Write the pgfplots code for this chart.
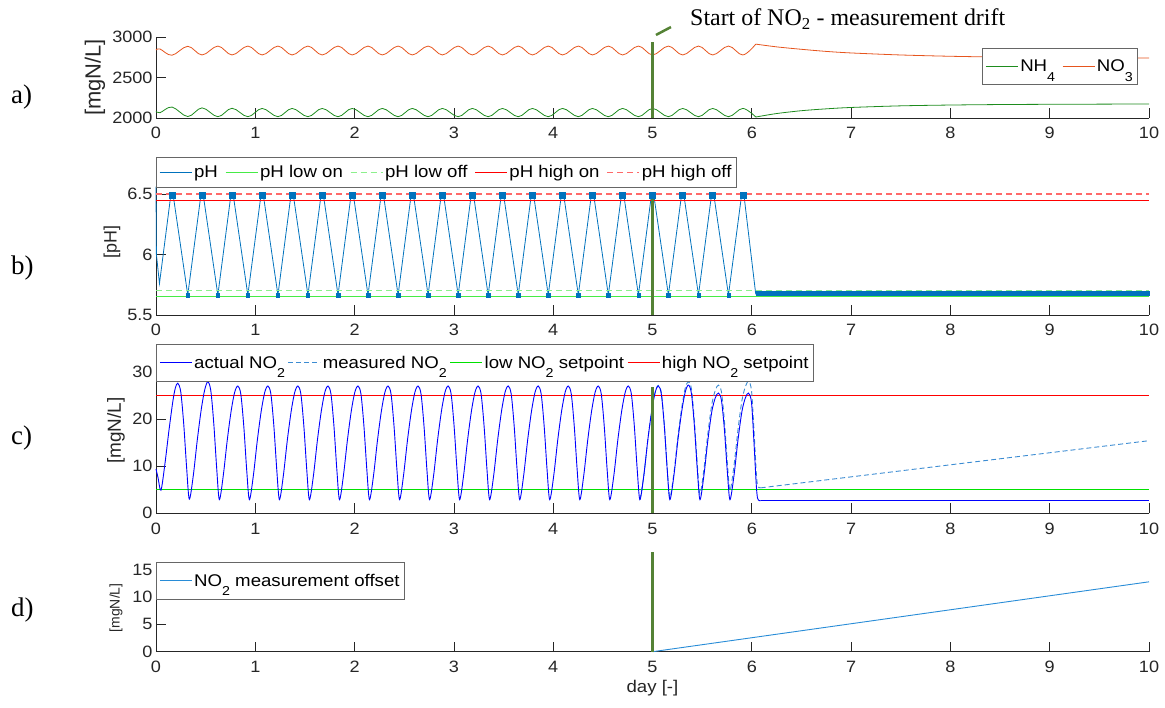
\documentclass[border=0pt]{standalone}
\usepackage{fontspec}
\setmainfont{Liberation Sans}[FakeStretch=1.1]
\newfontfamily\plainsans{Liberation Sans}
\newfontfamily\serif{Liberation Serif}
\usepackage{pgfplots}
\pgfplotsset{compat=1.18}

\definecolor{nh4}{RGB}{30,140,30}
\definecolor{no3}{RGB}{230,85,30}
\definecolor{phblue}{RGB}{0,114,189}
\definecolor{lowon}{RGB}{70,235,70}
\definecolor{lowoff}{RGB}{140,240,140}
\definecolor{highon}{RGB}{255,0,0}
\definecolor{highoff}{RGB}{255,105,105}
\definecolor{actual}{RGB}{0,0,255}
\definecolor{meas}{RGB}{60,140,210}
\definecolor{offs}{RGB}{40,140,215}
\definecolor{marker}{RGB}{84,130,53}
\definecolor{axgray}{RGB}{38,38,38}
\definecolor{spgreen}{RGB}{0,225,0}

\newcommand{\sub}[1]{\raisebox{-0.58em}{\fontsize{13}{13}\selectfont #1}}

\pgfplotsset{
  panel/.style={
    scale only axis, width=993bp,
    xmin=0, xmax=10, xtick={0,1,...,10},
    axis x line*=bottom, axis y line*=left,
    axis line style={axgray, line width=0.8bp, -},
    tick style={axgray, line width=0.8bp},
    major tick length=10bp, tick align=inside,
    ticklabel style={font=\fontsize{16.5}{19}\selectfont, text=axgray},
    xticklabel style={yshift=-6bp},
    /pgf/number format/assume math mode=true,
    /pgf/number format/1000 sep={},
    clip=false,
    legend columns=-1,
    legend cell align=left,
    legend image code/.code={\draw[##1] (0bp,0bp) -- (32bp,0bp);},
    legend style={draw=black!60, line width=0.6bp, fill=white,
      font=\fontsize{17}{19}\selectfont, text=black,
      inner xsep=3bp, inner ysep=9.5bp,
      nodes={inner xsep=2bp, inner ysep=2bp},
      /tikz/every even column/.append style={column sep=5bp}},
  },
  ylab/.style n args={2}{ylabel style={font=\plainsans\fontsize{#1}{#1}\selectfont, text=axgray,
      at={(axis description cs:#2,0.5)}, anchor=center}},
}

\begin{document}
\begin{tikzpicture}
\useasboundingbox (0bp,0bp) rectangle (1165bp,708bp);

% ---------------- panel a ----------------
\begin{axis}[panel, at={(156bp,590bp)}, anchor=south west, height=81bp,
  ymin=2000, ymax=3000, ytick={2000,2500,3000},
  ylabel={[mgN/L]}, ylab={22}{-0.0614},
  legend style={at={(axis description cs:0.832,0.864)}, anchor=north west}]
\addplot[nh4, line width=0.8bp, smooth, tension=0.6] coordinates {
(0,2085)(0.04,2065)(0.161,2135)(0.320,2018)(0.464,2125)(0.623,2016)(0.766,2120)(0.925,2016)(1.069,2118)(1.228,2016)(1.371,2118)(1.530,2016)(1.674,2118)(1.833,2016)(1.976,2118)(2.135,2016)(2.279,2118)(2.438,2016)(2.581,2118)(2.740,2016)(2.884,2118)(3.043,2016)(3.186,2118)(3.345,2016)(3.489,2118)(3.648,2016)(3.791,2118)(3.950,2016)(4.094,2118)(4.253,2016)(4.396,2118)(4.555,2016)(4.699,2118)(4.858,2016)(5.001,2118)(5.160,2016)(5.304,2118)(5.463,2016)(5.606,2118)(5.765,2016)(5.909,2118)(6.04,2012)};
\addlegendentry{NH\sub{4}}
\addplot[no3, line width=0.8bp, smooth, tension=0.6] coordinates {
(0,2840)(0.04,2852)(0.161,2775)(0.320,2885)(0.464,2778)(0.623,2888)(0.766,2778)(0.925,2888)(1.069,2778)(1.228,2888)(1.371,2778)(1.530,2888)(1.674,2778)(1.833,2888)(1.976,2778)(2.135,2888)(2.279,2778)(2.438,2888)(2.581,2778)(2.740,2888)(2.884,2778)(3.043,2888)(3.186,2778)(3.345,2888)(3.489,2778)(3.648,2888)(3.791,2778)(3.950,2888)(4.094,2778)(4.253,2888)(4.396,2778)(4.555,2888)(4.699,2778)(4.858,2888)(5.001,2778)(5.160,2888)(5.304,2778)(5.463,2888)(5.606,2778)(5.765,2888)(5.909,2778)(6.04,2912)};
\addlegendentry{NO\sub{3}}
\addplot[nh4, line width=0.8bp, smooth, forget plot] coordinates {
(6.04,2012)(6.25,2055)(6.5,2090)(6.75,2113)(7,2130)(7.5,2150)(8,2160)(8.5,2166)(9,2169)(9.5,2171)(10,2173)};
\addplot[no3, line width=0.8bp, smooth, forget plot] coordinates {
(6.04,2912)(6.25,2878)(6.5,2848)(6.75,2822)(7,2803)(7.5,2778)(8,2762)(8.5,2752)(9,2746)(9.5,2742)(10,2740)};
\addplot[marker, line width=3.5bp, forget plot] coordinates {(5,2000)(5,2938)};
\addplot[marker, line width=2.5bp, forget plot] coordinates {(5.035,3025)(5.186,3123)};
\end{axis}

% ---------------- panel b ----------------
\begin{axis}[panel, at={(156bp,393bp)}, anchor=south west, height=145.2bp,
  ymin=5.5, ymax=6.7, ytick={5.5,6,6.5}, yticklabels={5.5,6,6.5},
  ylabel={[pH]}, ylab={18}{-0.0443},
  legend style={at={(axis description cs:0,1.088)}, anchor=north west, inner ysep=6bp}]
\addplot[phblue, line width=0.8bp] coordinates {
(0,6.56)(0.004,6.0)(0.035,5.76)
(0.149,6.49)(0.173,6.49)(0.320,5.665)
(0.452,6.49)(0.476,6.49)(0.623,5.665)
(0.754,6.49)(0.778,6.49)(0.925,5.665)
(1.057,6.49)(1.081,6.49)(1.228,5.665)
(1.359,6.49)(1.383,6.49)(1.530,5.665)
(1.662,6.49)(1.686,6.49)(1.833,5.665)
(1.964,6.49)(1.988,6.49)(2.135,5.665)
(2.267,6.49)(2.291,6.49)(2.438,5.665)
(2.569,6.49)(2.593,6.49)(2.740,5.665)
(2.872,6.49)(2.896,6.49)(3.043,5.665)
(3.174,6.49)(3.198,6.49)(3.345,5.665)
(3.477,6.49)(3.501,6.49)(3.648,5.665)
(3.779,6.49)(3.803,6.49)(3.950,5.665)
(4.082,6.49)(4.106,6.49)(4.253,5.665)
(4.384,6.49)(4.408,6.49)(4.555,5.665)
(4.687,6.49)(4.711,6.49)(4.858,5.665)
(4.989,6.49)(5.013,6.49)(5.160,5.665)
(5.292,6.49)(5.316,6.49)(5.463,5.665)
(5.594,6.49)(5.618,6.49)(5.765,5.665)
(5.897,6.49)(5.921,6.49)(6.040,5.670)};
\addlegendentry{pH}
\addplot[lowon, line width=1.2bp] coordinates {(0,5.65)(10,5.65)};
\addlegendentry{pH low on}
\addplot[lowoff, line width=1.1bp, dash pattern=on 6bp off 4bp] coordinates {(0,5.7)(10,5.7)};
\addlegendentry{pH low off}
\addplot[highon, line width=0.9bp] coordinates {(0,6.45)(10,6.45)};
\addlegendentry{pH high on}
\addplot[highoff, line width=1.2bp, dash pattern=on 6bp off 4bp] coordinates {(0,6.5)(10,6.5)};
\addlegendentry{pH high off}
\addplot[phblue, only marks, mark=square*, mark size=3bp, forget plot] coordinates {
(0.161,6.49)(0.464,6.49)(0.766,6.49)(1.069,6.49)(1.371,6.49)(1.674,6.49)(1.976,6.49)(2.279,6.49)(2.581,6.49)(2.884,6.49)(3.186,6.49)(3.489,6.49)(3.791,6.49)(4.094,6.49)(4.396,6.49)(4.699,6.49)(5.001,6.49)(5.304,6.49)(5.606,6.49)(5.909,6.49)};
\addplot[phblue, only marks, mark=square*, mark size=1.7bp, forget plot] coordinates {
(0.320,5.665)(0.623,5.665)(0.925,5.665)(1.228,5.665)(1.530,5.665)(1.833,5.665)(2.135,5.665)(2.438,5.665)(2.740,5.665)(3.043,5.665)(3.345,5.665)(3.648,5.665)(3.950,5.665)(4.253,5.665)(4.555,5.665)(4.858,5.665)(5.160,5.665)(5.463,5.665)(5.765,5.665)};
\addplot[phblue, fill=phblue, draw=phblue, line width=0.5bp, forget plot] coordinates {
(6.04,5.662)(10,5.662)(10,5.694)(6.04,5.694)} -- cycle;
\addplot[marker, line width=3.5bp, forget plot] coordinates {(5,5.5)(5,6.48)};
\end{axis}

% ---------------- panel c ----------------
\begin{axis}[panel, at={(156bp,194.7bp)}, anchor=south west, height=165bp,
  ymin=0, ymax=35, ytick={0,10,20,30},
  ylabel={[mgN/L]}, ylab={19}{-0.0403},
  legend style={at={(axis description cs:0,1.026)}, anchor=north west,
    /tikz/every even column/.append style={column sep=1bp}}]
\addlegendimage{actual, line width=0.9bp}
\addlegendentry{actual NO\sub{2}}
\addlegendimage{meas, line width=0.9bp, dash pattern=on 5bp off 3bp}
\addlegendentry{measured NO\sub{2}}
\addlegendimage{spgreen, line width=0.9bp}
\addlegendentry{low NO\sub{2} setpoint}
\addlegendimage{highon, line width=0.9bp}
\addlegendentry{high NO\sub{2} setpoint}
\addplot[spgreen, line width=0.9bp, forget plot] coordinates {(0,5)(10,5)};
\addplot[highon, line width=0.9bp, forget plot] coordinates {(0,25)(10,25)};
\addplot[meas, line width=0.9bp, dash pattern=on 5bp off 3bp, smooth, tension=0.5, forget plot] coordinates {
(4.873,2.9)(4.9125,8.0)(4.9525,15.5)(4.9925,21.8)(5.0275,25.77)(5.059,27.15)(5.089,25.53)(5.119,18.80)(5.149,9.38)(5.175,3.35)(5.2155,8.55)(5.2555,16.15)(5.2955,22.55)(5.3305,26.64)(5.362,27.9)(5.392,26.4)(5.422,19.58)(5.452,10.15)(5.478,4.12)(5.5175,9.32)(5.5575,16.92)(5.5975,23.12)(5.6325,26.11)(5.664,27.19)(5.694,25.77)(5.724,19.65)(5.754,10.62)(5.780,4.89)(5.8205,10.09)(5.8605,17.69)(5.9005,23.9)(5.9355,26.89)(5.967,27.97)(5.997,26.04)(6.022,17.61)(6.045,8.66)(6.058,5.9)(6.075,5.45)(6.09,5.4)};
\addplot[meas, line width=0.9bp, dash pattern=on 5bp off 3bp, forget plot] coordinates {(6.09,5.4)(10,15.4)};
\addplot[actual, line width=0.9bp, smooth, tension=0.5, forget plot] coordinates {
(0,9.4)(0.02,7.6)(0.05,4.9)(0.09,10.5)(0.13,17.5)(0.17,23.8)(0.195,26.6)(0.219,27.6)(0.249,25.8)(0.279,19.0)(0.309,9.5)(0.3355,3.0)
(0.3755,8.0)(0.4155,15.5)(0.4555,22.0)(0.4905,26.2)(0.522,27.9)(0.552,26.0)(0.582,19.0)(0.612,9.3)(0.638,2.9)
(0.6775,8.0)(0.7175,15.5)(0.7575,21.8)(0.7925,25.7)(0.824,27.0)(0.854,25.3)(0.884,18.5)(0.914,9.0)(0.9405,2.9)
(0.9805,8.0)(1.0205,15.5)(1.0605,21.8)(1.0955,25.7)(1.127,27.0)(1.157,25.3)(1.187,18.5)(1.217,9.0)(1.243,2.9)
(1.2825,8.0)(1.3225,15.5)(1.3625,21.8)(1.3975,25.7)(1.429,27.0)(1.459,25.3)(1.489,18.5)(1.519,9.0)(1.545,2.9)
(1.5855,8.0)(1.6255,15.5)(1.6655,21.8)(1.7005,25.7)(1.732,27.0)(1.762,25.3)(1.792,18.5)(1.822,9.0)(1.848,2.9)
(1.8875,8.0)(1.9275,15.5)(1.9675,21.8)(2.0025,25.7)(2.034,27.0)(2.064,25.3)(2.094,18.5)(2.124,9.0)(2.150,2.9)
(2.1905,8.0)(2.2305,15.5)(2.2705,21.8)(2.3055,25.7)(2.337,27.0)(2.367,25.3)(2.397,18.5)(2.427,9.0)(2.453,2.9)
(2.4925,8.0)(2.5325,15.5)(2.5725,21.8)(2.6075,25.7)(2.639,27.0)(2.669,25.3)(2.699,18.5)(2.729,9.0)(2.755,2.9)
(2.7955,8.0)(2.8355,15.5)(2.8755,21.8)(2.9105,25.7)(2.942,27.0)(2.972,25.3)(3.002,18.5)(3.032,9.0)(3.058,2.9)
(3.0975,8.0)(3.1375,15.5)(3.1775,21.8)(3.2125,25.7)(3.244,27.0)(3.274,25.3)(3.304,18.5)(3.334,9.0)(3.360,2.9)
(3.4005,8.0)(3.4405,15.5)(3.4805,21.8)(3.5155,25.7)(3.547,27.0)(3.577,25.3)(3.607,18.5)(3.637,9.0)(3.663,2.9)
(3.7025,8.0)(3.7425,15.5)(3.7825,21.8)(3.8175,25.7)(3.849,27.0)(3.879,25.3)(3.909,18.5)(3.939,9.0)(3.965,2.9)
(4.0055,8.0)(4.0455,15.5)(4.0855,21.8)(4.1205,25.7)(4.152,27.0)(4.182,25.3)(4.212,18.5)(4.242,9.0)(4.268,2.9)
(4.3075,8.0)(4.3475,15.5)(4.3875,21.8)(4.4225,25.7)(4.454,27.0)(4.484,25.3)(4.514,18.5)(4.544,9.0)(4.570,2.9)
(4.6105,8.0)(4.6505,15.5)(4.6905,21.8)(4.7255,25.7)(4.757,27.0)(4.787,25.3)(4.817,18.5)(4.847,9.0)(4.873,2.9)
(4.9125,8.0)(4.9525,15.5)(4.9925,21.8)(5.0275,25.7)(5.059,27.0)(5.089,25.3)(5.119,18.5)(5.149,9.0)(5.175,2.9)
(5.2155,8.0)(5.2555,15.5)(5.2955,21.8)(5.3305,25.8)(5.362,27.2)(5.392,25.4)(5.422,18.5)(5.452,9.0)(5.478,2.9)
(5.5175,8.0)(5.5575,15.5)(5.5975,21.6)(5.6325,24.5)(5.664,25.5)(5.694,24.0)(5.724,17.8)(5.754,8.7)(5.780,2.9)
(5.8205,8.0)(5.8605,15.5)(5.9005,21.6)(5.9355,24.5)(5.967,25.5)(5.997,23.5)(6.022,15.0)(6.045,6.0)(6.058,3.2)(6.075,2.7)(6.09,2.65)};
\addplot[actual, line width=0.9bp, forget plot] coordinates {(6.09,2.65)(10,2.65)};
\addplot[marker, line width=3.5bp, forget plot] coordinates {(5,0)(5,26.8)};
\end{axis}

% ---------------- panel d ----------------
\begin{axis}[panel, at={(156bp,56.3bp)}, anchor=south west, height=87.7bp,
  ymin=0, ymax=16, ytick={0,5,10,15},
  ylabel={[mgN/L]}, ylab={14}{-0.0403},
  xlabel={day [-]}, xlabel style={font=\fontsize{17}{19}\selectfont, text=axgray, yshift=-1bp},
  legend style={at={(axis description cs:0,1.023)}, anchor=north west}]
\addplot[offs, line width=0.9bp] coordinates {(5,0)(10,12.75)};
\addlegendentry{NO\sub{2} measurement offset}
\addplot[marker, line width=3.5bp, forget plot] coordinates {(5,0)(5,18.2)};
\end{axis}

% ---------------- annotations ----------------
\node[anchor=base west, font=\serif\fontsize{24}{28}\selectfont, inner sep=0pt] at (690bp,682bp) {Start of NO\textsubscript{2} - measurement drift};
\node[anchor=west, font=\serif\fontsize{27}{30}\selectfont, inner sep=0pt] at (11bp,611bp) {a)};
\node[anchor=west, font=\serif\fontsize{27}{30}\selectfont, inner sep=0pt] at (11bp,440bp) {b)};
\node[anchor=west, font=\serif\fontsize{27}{30}\selectfont, inner sep=0pt] at (11bp,270bp) {c)};
\node[anchor=west, font=\serif\fontsize{27}{30}\selectfont, inner sep=0pt] at (11bp,98bp) {d)};
\end{tikzpicture}
\end{document}
